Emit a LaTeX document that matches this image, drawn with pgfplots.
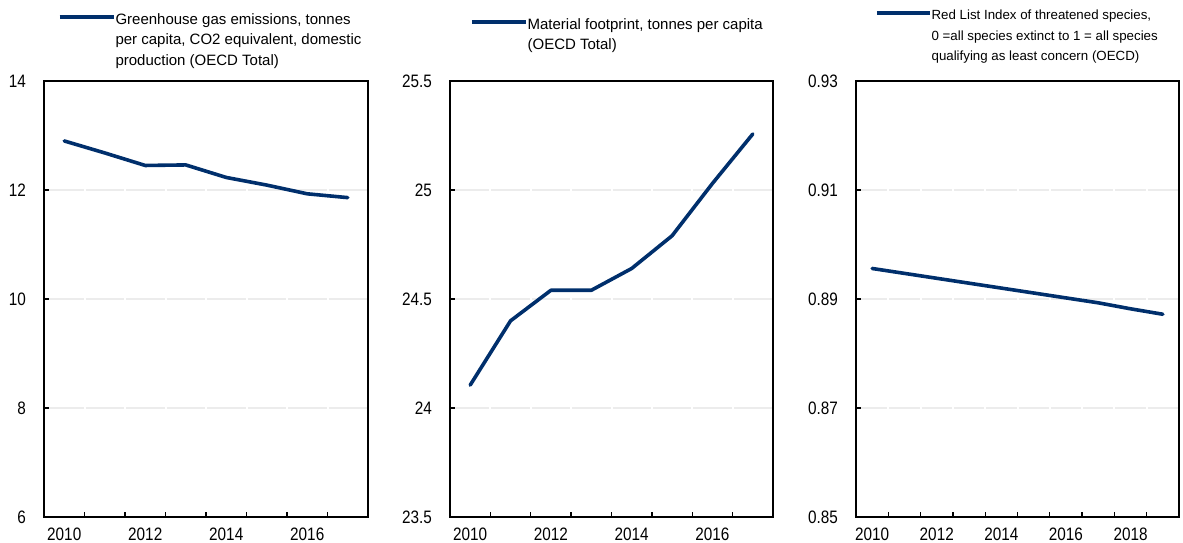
\documentclass[border=0pt]{standalone}
\usepackage{pgfplots}
\pgfplotsset{compat=1.18}
\usepackage{fontspec}
\setmainfont{Liberation Sans}
\newfontfamily\narrowfont[FakeStretch=0.85]{Liberation Sans}
\newcommand\legfont{\fontsize{15}{20.5}\selectfont}
\newcommand\legfontsmall{\fontsize{13.3}{20.5}\selectfont}
\newcommand\tickfont{\narrowfont\fontsize{18}{18}\selectfont}
\definecolor{oecdblue}{HTML}{002F6C}
\definecolor{gridgray}{HTML}{ECECEC}
\pgfplotsset{
  panel/.style={
    scale only axis, height=436pt,
    axis line style={line width=1.8pt, black},
    tick align=inside, tick pos=left,
    major tick length=5pt, minor tick length=5pt,
    every tick/.style={black, line width=1.3pt},
    major x tick style={draw=none},
    minor x tick style={black, line width=1.3pt},
    ymajorgrids,
    tick label style={font=\tickfont, inner sep=0pt},
    /pgf/number format/assume math mode=true,
    yticklabel style={anchor=east, xshift=-18pt},
    xticklabel style={anchor=north, yshift=-10.7pt},
    scaled y ticks=false,
    legend style={draw=none, fill=none, inner sep=0pt, outer sep=0pt, column sep=-2pt, anchor=north west, font=\legfont, cells={anchor=north west, align=left, inner sep=0pt, font=\legfont}},
    legend image code/.code={\draw[##1, line cap=butt] (0pt,-5.6pt) -- (54pt,-5.6pt);},
  },
  series/.style={oecdblue, line width=3.6pt, line join=round, line cap=round}
}
\begin{document}
\begin{tikzpicture}
\useasboundingbox (0,0) rectangle (1183pt,543pt);
% Panel 1
\begin{axis}[panel, at={(44pt,26pt)}, anchor=south west, width=324pt,
  xmin=2009.5, xmax=2017.5, ymin=6, ymax=14, ytick={6,8,10,12,14},
  xtick={2010,2012,2014,2016}, xticklabels={2010,2012,2014,2016},
  minor xtick={2010.5,2011.5,2012.5,2013.5,2014.5,2015.5,2016.5},
  y grid style={gridgray, line width=1.2pt, dash pattern=on 38.5pt off 2pt, dash phase=39.5pt},
  legend style={at={(0.043,1.1596)}}]
\addplot[series] coordinates {(2010,12.90) (2011,12.68) (2012,12.45) (2013,12.46) (2014,12.23) (2015,12.09) (2016,11.93) (2017,11.86)};
\addlegendentry{Greenhouse gas emissions, tonnes\\per capita, CO2 equivalent, domestic\\production (OECD Total)}
\end{axis}
% Panel 2
\begin{axis}[panel, at={(450pt,26pt)}, anchor=south west, width=323pt,
  xmin=2009.5, xmax=2017.5, ymin=23.5, ymax=25.5, ytick={23.5,24,24.5,25,25.5},
  xtick={2010,2012,2014,2016}, xticklabels={2010,2012,2014,2016},
  minor xtick={2010.5,2011.5,2012.5,2013.5,2014.5,2015.5,2016.5},
  y grid style={gridgray, line width=1.2pt, dash pattern=on 38.4pt off 2pt, dash phase=39.4pt},
  legend style={at={(0.062,1.148)}}]
\addplot[series] coordinates {(2010,24.105) (2011,24.40) (2012,24.54) (2013,24.54) (2014,24.64) (2015,24.79) (2016,25.03) (2017,25.257)};
\addlegendentry{Material footprint, tonnes per capita\\(OECD Total)}
\end{axis}
% Panel 3
\begin{axis}[panel, at={(856pt,26pt)}, anchor=south west, width=323pt,
  xmin=2009.5, xmax=2019.5, ymin=0.85, ymax=0.93, ytick={0.85,0.87,0.89,0.91,0.93},
  yticklabel style={/pgf/number format/fixed, /pgf/number format/fixed zerofill, /pgf/number format/precision=2},
  xtick={2010,2012,2014,2016,2018}, xticklabels={2010,2012,2014,2016,2018},
  minor xtick={2010.5,2011.5,2012.5,2013.5,2014.5,2015.5,2016.5,2017.5,2018.5},
  y grid style={gridgray, line width=1.2pt, dash pattern=on 30.3pt off 2pt, dash phase=31.3pt},
  legend image code/.code={\draw[#1, line cap=butt] (0pt,-5.1pt) -- (53pt,-5.1pt);},
  legend style={at={(0.0588,1.1677)}, font=\legfontsmall, cells={font=\legfontsmall}}]
\addplot[series] coordinates {(2010,0.8956) (2011,0.8947) (2012,0.8938) (2013,0.8929) (2014,0.8920) (2015,0.8911) (2016,0.8902) (2017,0.8893) (2018,0.8882) (2019,0.8872)};
\addlegendentry{Red List Index of threatened species,\\0 =all species extinct to 1 = all species\\qualifying as least concern (OECD)}
\end{axis}
\end{tikzpicture}
\end{document}
